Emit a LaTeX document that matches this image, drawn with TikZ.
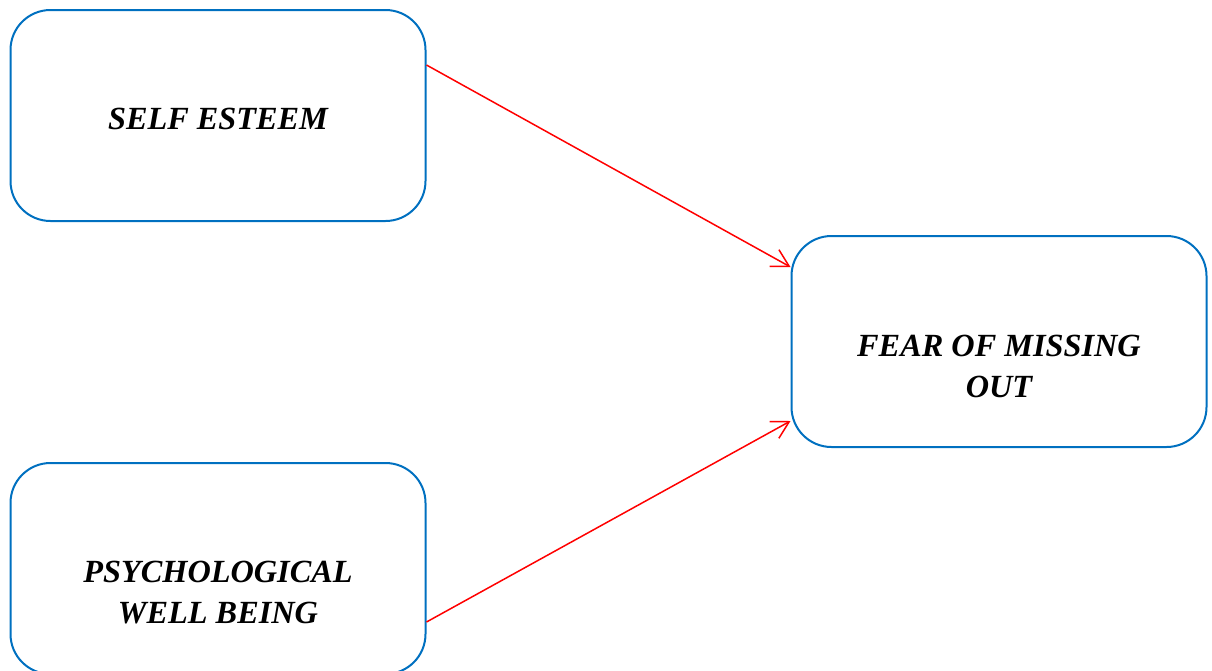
\documentclass[tikz,border=0pt]{standalone}
\usepackage{fontspec}
\setmainfont{Liberation Serif}
\usetikzlibrary{arrows.meta,calc}
\definecolor{boxblue}{RGB}{0,112,192}
\begin{document}
\begin{tikzpicture}[x=1pt,y=-1pt,
  box/.style={draw=boxblue,line width=2pt,rounded corners=40pt,minimum width=415pt,minimum height=211pt,inner sep=0pt},
  lbl/.style={font=\fontsize{32.3}{41}\selectfont\bfseries\itshape,align=center,inner sep=0pt},
  link/.style={draw=red,line width=1.5pt,-{Straight Barb[length=17pt,width=19pt,line width=1.5pt]}}]
\useasboundingbox (0,0) rectangle (1212,670);
\node[box] (b1) at (218,115.5) {};
\node[box] (b2) at (218,568.5) {};
\node[box] (b3) at (999,341.5) {};
\node[lbl] (t1) at (218,119) {SELF ESTEEM};
\node[lbl] (t2) at (218,593) {PSYCHOLOGICAL\\WELL BEING};
\node[lbl] (t3) at (999,366) {FEAR OF MISSING\\OUT};
\draw[link] ([yshift=50.5pt]b1.east) -- ([yshift=74.5pt]b3.west);
\draw[link] ([yshift=-53.5pt]b2.east) -- ([yshift=-79.5pt]b3.west);
\end{tikzpicture}
\end{document}
